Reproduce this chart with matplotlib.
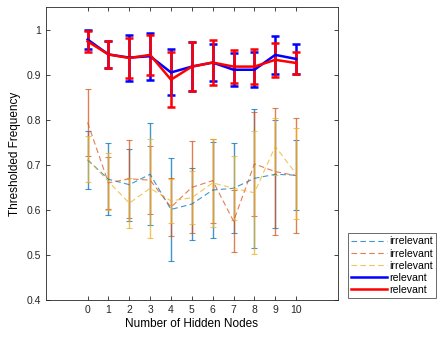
import numpy as np
import matplotlib
matplotlib.use('Agg')
import matplotlib.pyplot as plt

plt.rcParams['font.family'] = ['Liberation Sans', 'DejaVu Sans']

nodes = list(range(11))

# irrelevant features (three runs)
irr1_mean = [0.711, 0.668, 0.656, 0.679, 0.601, 0.613, 0.644, 0.648, 0.670, 0.679, 0.677]
irr1_err = [0.064, 0.080, 0.080, 0.113, 0.115, 0.080, 0.107, 0.100, 0.154, 0.120, 0.077]
irr2_mean = [0.794, 0.660, 0.669, 0.666, 0.606, 0.650, 0.665, 0.575, 0.702, 0.685, 0.676]
irr2_err = [0.075, 0.058, 0.086, 0.075, 0.064, 0.102, 0.093, 0.069, 0.115, 0.141, 0.127]
irr3_mean = [0.713, 0.663, 0.615, 0.648, 0.620, 0.627, 0.660, 0.648, 0.638, 0.741, 0.680]
irr3_err = [0.052, 0.064, 0.056, 0.110, 0.048, 0.059, 0.098, 0.071, 0.136, 0.064, 0.101]

# relevant features (two runs)
rel1_mean = [0.978, 0.945, 0.938, 0.941, 0.905, 0.918, 0.927, 0.911, 0.911, 0.944, 0.935]
rel1_err = [0.021, 0.030, 0.051, 0.052, 0.051, 0.054, 0.041, 0.037, 0.039, 0.042, 0.033]
rel2_mean = [0.974, 0.945, 0.937, 0.944, 0.889, 0.918, 0.927, 0.918, 0.918, 0.933, 0.926]
rel2_err = [0.024, 0.030, 0.045, 0.045, 0.061, 0.054, 0.049, 0.037, 0.038, 0.037, 0.024]

fig = plt.figure(figsize=(4.37, 3.39), dpi=100)
ax = fig.add_axes([0.105, 0.115, 0.668, 0.864])

irr = [(irr1_mean, irr1_err, '#0072BD'),
       (irr2_mean, irr2_err, '#D95319'),
       (irr3_mean, irr3_err, '#EDB120')]
for m, e, c in irr:
    ax.errorbar(nodes, m, yerr=e, color=c, linestyle=(0, (5, 3)), linewidth=0.8,
                elinewidth=1.0, capsize=2.5, capthick=0.8, alpha=0.75,
                label='irrelevant')

ax.errorbar(nodes, rel1_mean, yerr=rel1_err, color='#0000FF', linewidth=1.8,
            elinewidth=1.8, capsize=3, capthick=1.8, label='relevant')
ax.errorbar(nodes, rel2_mean, yerr=rel2_err, color='#FF0000', linewidth=1.8,
            elinewidth=1.8, capsize=3, capthick=1.8, label='relevant')

ax.set_xlim(-2, 12)
ax.set_ylim(0.4, 1.05)
ax.set_xticks(nodes)
ax.set_yticks([0.4, 0.5, 0.6, 0.7, 0.8, 0.9, 1.0])
ax.set_yticklabels(['0.4', '0.5', '0.6', '0.7', '0.8', '0.9', '1'])
ax.tick_params(direction='in', top=True, right=True, labelsize=7.5,
               length=3, width=0.6, colors='#262626')
for s in ax.spines.values():
    s.set_linewidth(0.6)
    s.set_color('#262626')
ax.set_xlabel('Number of Hidden Nodes', fontsize=8.5, labelpad=2)
ax.set_ylabel('Thresholded Frequency', fontsize=8.5, labelpad=4)

h, l = ax.get_legend_handles_labels()
h = [x[0] for x in h]
leg = fig.legend(h, l, loc='upper left', bbox_to_anchor=(0.797, 0.312),
                 fontsize=7.6, frameon=True, fancybox=False, edgecolor='#262626',
                 handlelength=3.4, handletextpad=0.2, borderpad=0.3,
                 labelspacing=0.2, borderaxespad=0)
leg.get_frame().set_linewidth(0.6)

fig.savefig('out.png', dpi=100)
